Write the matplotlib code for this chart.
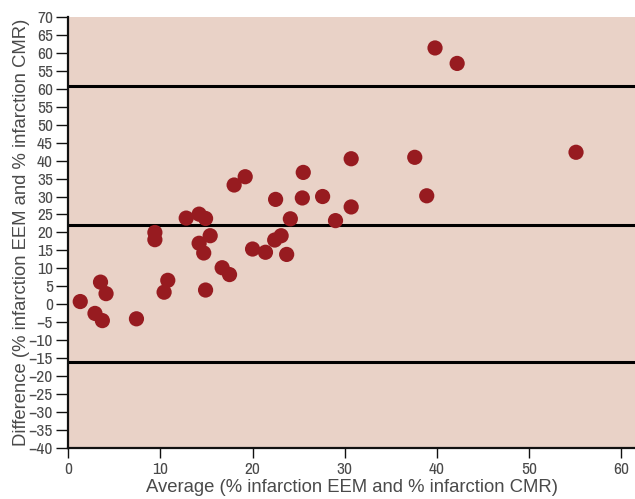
import matplotlib
matplotlib.use("Agg")
import matplotlib.pyplot as plt
from matplotlib import font_manager

# Bland-Altman: EEM vs CMR infarct size
avg = [1.3, 2.9, 3.5, 3.7, 4.1, 7.4, 9.4, 9.4, 10.4, 10.8,
       12.8, 14.2, 14.2, 14.7, 14.9, 14.9, 15.4, 16.7, 17.5, 18.0,
       19.2, 20.0, 21.4, 22.4, 22.5, 23.1, 23.7, 24.1, 25.5, 25.4,
       27.6, 29.0, 30.7, 30.7, 37.6, 38.9, 39.8, 42.2, 55.1]
diff = [0.8, -2.5, 6.2, -4.5, 3.0, -4.0, 20.0, 18.0, 3.4, 6.7,
        24.0, 17.0, 25.1, 14.3, 23.9, 4.0, 19.1, 10.2, 8.3, 33.2,
        35.5, 15.4, 14.5, 17.9, 29.2, 19.1, 13.9, 23.8, 36.7, 29.6,
        30.0, 23.3, 40.5, 27.1, 40.9, 30.2, 71.3, 67.0, 42.3]
limits = [60.7, 22.1, -16.0]   # upper LoA, mean, lower LoA

yticks = list(range(-40, 81, 5))
# labels as printed on the original axis (top four are mislabelled there)
ylabels = ["\u221240", "\u221235", "\u221230", "\u221225", "\u221220", "\u221215",
           "\u221210", "\u22125", "0", "5", "10", "15", "20", "25", "30", "35",
           "40", "45", "50", "55", "60", "55", "60", "65", "70"]
xticks = [0, 10, 20, 30, 40, 50, 60]

BG = "#e9d2c7"
DOT = "#971b20"
TXT = "#4a4a4a"

names = sorted({f.name for f in font_manager.fontManager.ttflist})
narrow = next((n for n in names if "Narrow" in n or "Condensed" in n), "Liberation Sans")

fig = plt.figure(figsize=(6.35, 4.99), dpi=100)
ax = fig.add_axes([0.1075, 0.1016, 0.8925, 0.865])
ax.set_facecolor(BG)

for v in limits:
    ax.axhline(v, color="black", lw=2.2, zorder=2)
ax.scatter(avg, diff, s=120, color=DOT, edgecolors="none", zorder=3)

ax.set_xlim(0, 61.5)
ax.set_ylim(-40, 80)
ax.set_yticks(yticks)
ax.set_yticklabels(ylabels)
ax.set_xticks(xticks)

for s in ("top", "right"):
    ax.spines[s].set_visible(False)
for s in ("left", "bottom"):
    ax.spines[s].set_linewidth(1.6)
    ax.spines[s].set_color("#111111")
ax.tick_params(axis="y", length=9, width=1.0, pad=2, color="#111111")
ax.tick_params(axis="x", length=7, width=1.0, pad=3, color="#111111")
for lab in ax.get_xticklabels() + ax.get_yticklabels():
    lab.set_family(narrow)
    lab.set_fontsize(12.5)
    lab.set_color(TXT)

ax.set_xlabel("Average (% infarction EEM and % infarction CMR)",
              fontsize=13.3, color=TXT, labelpad=1, family="Liberation Sans")
ax.set_ylabel("Difference (% infarction EEM and % infarction CMR)",
              fontsize=13.3, color=TXT, family="Liberation Sans")
ax.yaxis.set_label_coords(-0.068, 0.5)

fig.savefig("out.png", dpi=100)
